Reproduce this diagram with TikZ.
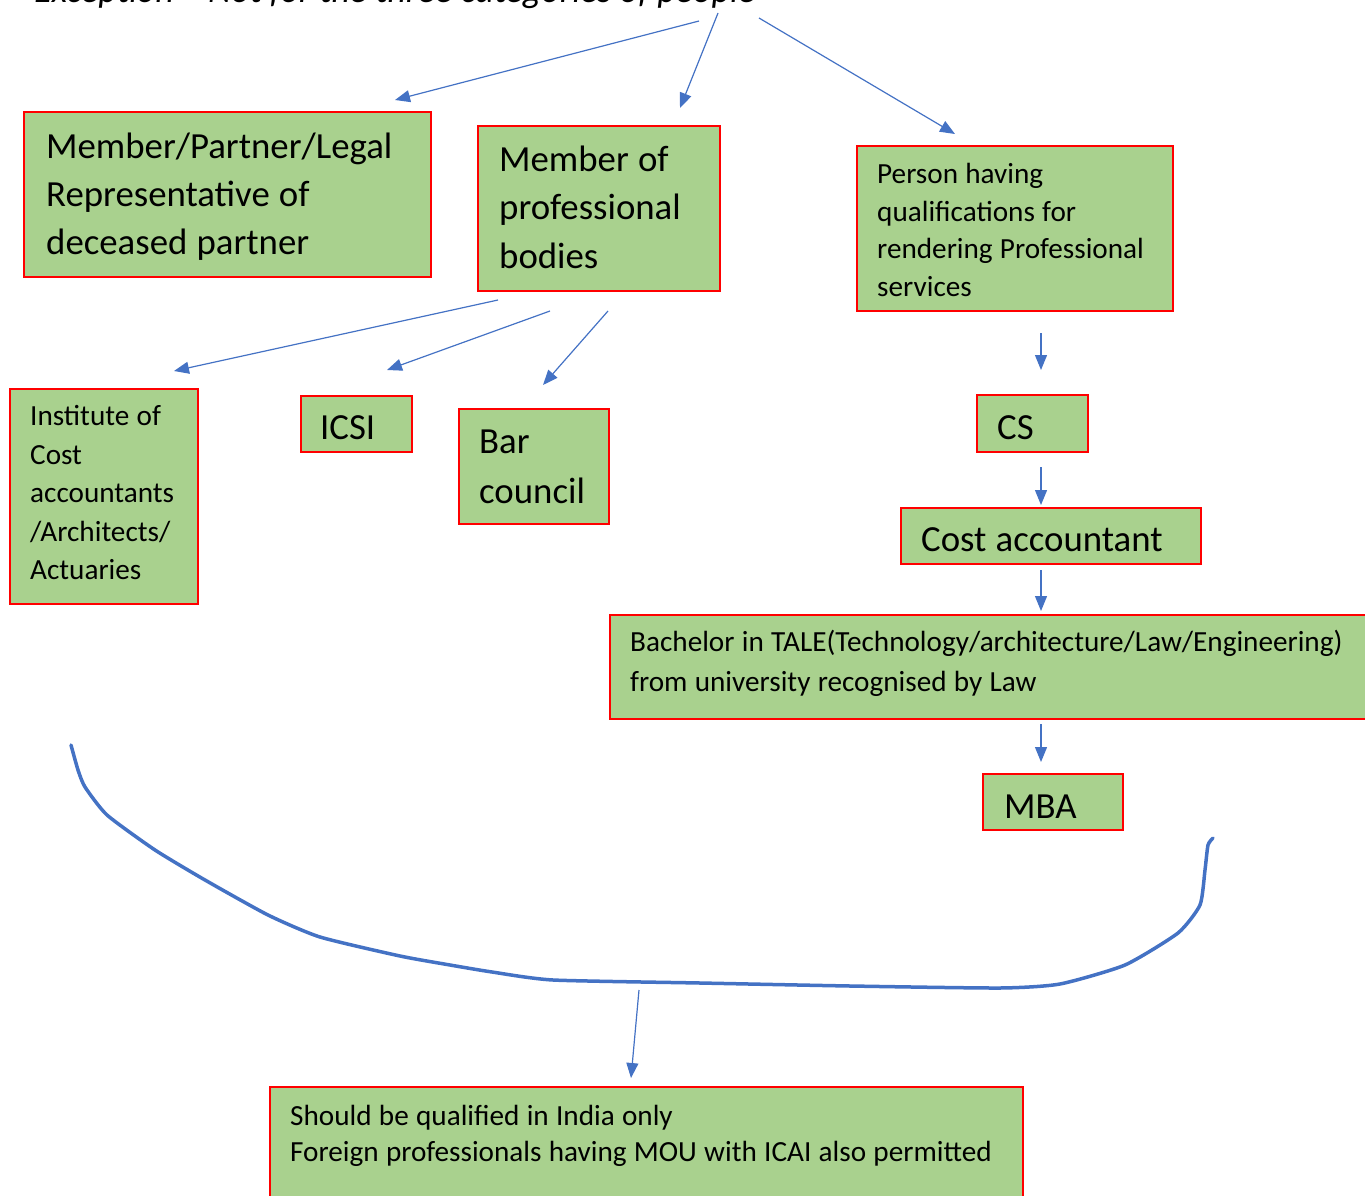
\documentclass[tikz,border=0pt]{standalone}
\usepackage{fontspec}
\setmainfont{Carlito}
\usetikzlibrary{arrows.meta}
\definecolor{cardfill}{HTML}{A9D18E}
\definecolor{cardline}{HTML}{FF0000}
\definecolor{linkblue}{HTML}{4472C4}
\begin{document}
\begin{tikzpicture}[x=1pt,y=-1pt,
  card/.style={draw=cardline, fill=cardfill, line width=2pt, rectangle,
    anchor=north west, inner sep=0pt},
  words/.style={anchor=base west, inner sep=0pt, text width=760pt, align=left,
    execute at begin node={\spaceskip=0.25em\relax}},
  big/.style={font=\fontsize{36.8}{#1}\selectfont},
  big/.default=48.5,
  small/.style={font=\fontsize{29.2}{#1}\selectfont},
  small/.default=38.5,
  link/.style={draw=linkblue, line width=1.2pt, -{Triangle[length=15pt,width=12pt]}},
  brace/.style={draw=linkblue, line width=3.5pt, line join=round, line cap=round}]

\useasboundingbox (0,0) rectangle (1365,1196);
\clip (0,0) rectangle (1365,1196);

% heading, cut by the top edge
\node[anchor=base west, inner sep=0pt, font=\fontsize{36}{44}\selectfont\itshape]
  (head) at (34,3) {Exception – Not for the three categories of people};

% the three categories
\node[card, minimum width=407pt, minimum height=165pt] (partner) at (23,111) {};
\node[words, big=48.3] (partnertext) at (46,158.3)
  {Member/Partner/Legal\\Representative of\\deceased partner};

\node[card, minimum width=242pt, minimum height=165pt] (bodies) at (477,125) {};
\node[words, big=48.5] (bodiestext) at (499,171.5)
  {Member of\\professional\\bodies};

\node[card, minimum width=316pt, minimum height=165pt] (person) at (856,145) {};
\node[words, small=37.8] (persontext) at (877,183.3)
  {Person having\\qualifications for\\rendering Professional\\services};

% professional bodies
\node[card, minimum width=188pt, minimum height=215pt] (institute) at (9,388) {};
\node[words, small=38.5] (institutetext) at (30,425.5)
  {Institute of\\Cost\\accountants\\/Architects/\\Actuaries};

\node[card, minimum width=111pt, minimum height=56pt] (icsi) at (300,395) {};
\node[words, big] (icsitext) at (320,439) {ICSI};

\node[card, minimum width=150pt, minimum height=115pt] (bar) at (458,408) {};
\node[words, big=50] (bartext) at (479,453) {Bar\\council};

% qualifications
\node[card, minimum width=111pt, minimum height=57pt] (cs) at (976,394) {};
\node[words, big] (cstext) at (997,439) {CS};

\node[card, minimum width=300pt, minimum height=56pt] (cost) at (900,507) {};
\node[words, big] (costtext) at (921,551) {Cost accountant};

\node[card, minimum width=776pt, minimum height=104pt] (tale) at (609,614) {};
\node[words, small=40] (taletext) at (630,651.5)
  {Bachelor in TALE(Technology/architecture/Law/Engineering)\\from university recognised by Law};

\node[card, minimum width=140pt, minimum height=56pt] (mba) at (982,773) {};
\node[words, big] (mbatext) at (1004,818) {MBA};

% common condition
\node[card, minimum width=753pt, minimum height=140pt] (india) at (269,1086) {};
\node[words, small=36.7] (indiatext) at (290,1125)
  {Should be qualified in India only\\Foreign professionals having MOU with ICAI also permitted};

% arrow ends
\coordinate (h1) at (699,21);  \coordinate (e1) at (395,100);
\coordinate (h2) at (718,13);  \coordinate (e2) at (680,108);
\coordinate (h3) at (759,18);  \coordinate (e3) at (955,134);
\coordinate (p1) at (498,300); \coordinate (f1) at (174,371);
\coordinate (p2) at (550,311); \coordinate (f2) at (387,370);
\coordinate (p3) at (608,311); \coordinate (f3) at (543,385);
\coordinate (q1) at (1041,333); \coordinate (g1) at (1041,370);
\coordinate (q2) at (1041,467); \coordinate (g2) at (1041,505);
\coordinate (q3) at (1041,570); \coordinate (g3) at (1041,611);
\coordinate (q4) at (1041,724); \coordinate (g4) at (1041,762);
\coordinate (r1) at (639,990); \coordinate (s1) at (631,1078);

\draw[link] (h1) -- (e1);
\draw[link] (h2) -- (e2);
\draw[link] (h3) -- (e3);
\draw[link] (p1) -- (f1);
\draw[link] (p2) -- (f2);
\draw[link] (p3) -- (f3);
\draw[link] (q1) -- (g1);
\draw[link] (q2) -- (g2);
\draw[link] (q3) -- (g3);
\draw[link] (q4) -- (g4);
\draw[link] (r1) -- (s1);

% hand-drawn brace gathering everything above
\draw[brace] plot[smooth, tension=0.35] coordinates {
  (71,745) (78,770) (85,787) (107,815) (155,850) (205,880) (268,915)
  (320,937) (400,956) (450,965) (492,972) (553,980) (700,983) (850,986)
  (1000,988) (1060,984) (1125,965) (1178,933) (1200,905) (1205,870)
  (1208,845) (1213,838)};
\end{tikzpicture}
\end{document}
